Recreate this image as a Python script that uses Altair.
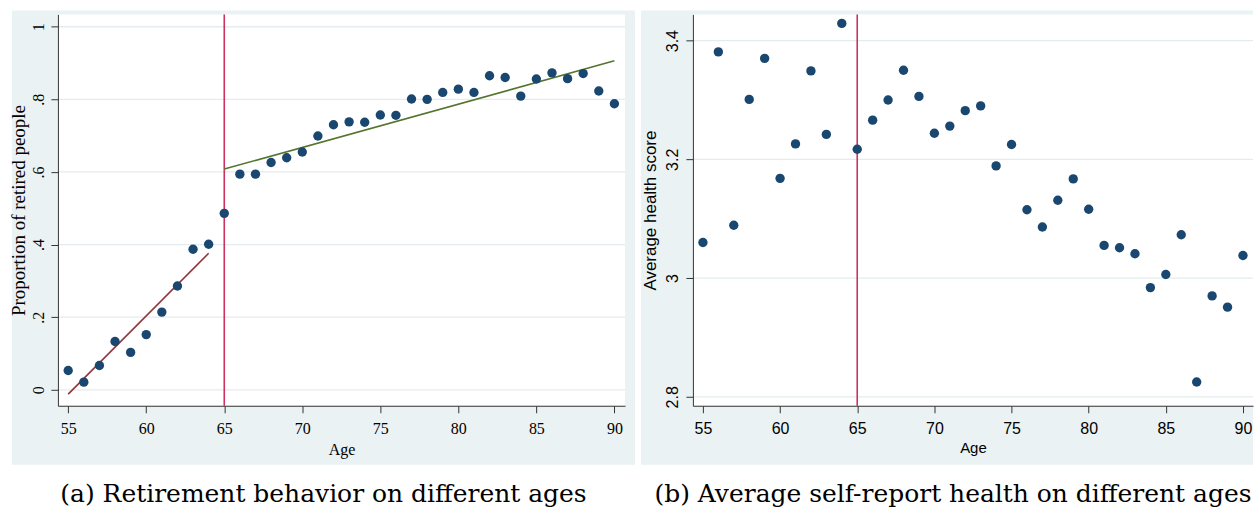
import altair as alt
import pandas as pd

# ---------------- data ----------------
ages = list(range(55, 91))
retired_share = [0.053, 0.021, 0.067, 0.133, 0.103, 0.152, 0.214, 0.286, 0.387, 0.401,
                 0.486, 0.594, 0.594, 0.626, 0.639, 0.655, 0.699, 0.730, 0.738, 0.737,
                 0.757, 0.756, 0.801, 0.800, 0.819, 0.828, 0.819, 0.865, 0.860, 0.809,
                 0.856, 0.873, 0.857, 0.871, 0.823, 0.788]
health_score = [3.060, 3.381, 3.089, 3.301, 3.370, 3.168, 3.226, 3.349, 3.242, 3.429,
                3.217, 3.266, 3.300, 3.350, 3.306, 3.244, 3.256, 3.282, 3.290, 3.189,
                3.225, 3.115, 3.086, 3.131, 3.167, 3.116, 3.055, 3.051, 3.041, 2.984,
                3.006, 3.073, 2.825, 2.970, 2.951, 3.038]
fit_pre_age = [55, 64]
fit_pre_val = [-0.012, 0.376]
fit_post_age = [65, 90]
fit_post_val = [0.608, 0.906]
cutoff_age = [65]
x_ticks = [55, 60, 65, 70, 75, 80, 85, 90]
y_ticks_a = [0, 0.2, 0.4, 0.6, 0.8, 1]
y_ticks_b = [2.8, 3.0, 3.2, 3.4]
caption_a = "(a) Retirement behavior on different ages"
caption_b = "(b) Average self-report health on different ages"

# ---------------- styles ----------------
BG = "#EAF2F3"
GRID = "#E3ECEE"
NAVY = "#1A476F"
MAROON = "#90353B"
GREEN = "#55752F"
CRANBERRY = "#CE3160"
AXIS = "#333333"
H = 392
WA = 568
WB = 561

pts_a = pd.DataFrame({"age": ages, "val": retired_share})
pts_b = pd.DataFrame({"age": ages, "val": health_score})
pre = pd.DataFrame({"age": fit_pre_age, "val": fit_pre_val})
post = pd.DataFrame({"age": fit_post_age, "val": fit_post_val})
cut = pd.DataFrame({"age": cutoff_age})
one = pd.DataFrame({"k": [0]})


def panel(points, W, xdom, ydom, yticks, ytitle, font, lfs, xtfs, ytfs, label_expr, extra,
          gray_x1, gray_x2, caption, cap_dx, xlp, xtp, ylp, ytp):
    xs = alt.Scale(domain=xdom, nice=False, zero=False)
    ys = alt.Scale(domain=ydom, nice=False, zero=False)
    xaxis = alt.Axis(values=x_ticks, title="Age", grid=False, zindex=1,
                     labelFont=font, titleFont=font, labelFontSize=lfs, titleFontSize=xtfs,
                     titleFontWeight="normal", labelColor="black", titleColor="black",
                     domainColor=AXIS, tickColor=AXIS, tickSize=7, labelPadding=xlp,
                     titlePadding=xtp, labelFlush=False)
    yaxis = alt.Axis(values=yticks, title=ytitle, grid=False, zindex=1,
                     labelFont=font, titleFont=font, labelFontSize=lfs, titleFontSize=ytfs,
                     titleFontWeight="normal", labelColor="black", titleColor="black",
                     domainColor=AXIS, tickColor=AXIS, tickSize=7, labelPadding=ylp,
                     labelAngle=270, labelAlign="center", labelBaseline="bottom",
                     titlePadding=ytp, labelExpr=label_expr, labelFlush=False)

    gray = alt.Chart(one).mark_rect(fill=BG, clip=False).encode(
        x=alt.value(gray_x1), x2=alt.value(gray_x2), y=alt.value(-4), y2=alt.value(H + 59))
    white = alt.Chart(one).mark_rect(fill="white").encode(
        x=alt.value(0), x2=alt.value(W), y=alt.value(0), y2=alt.value(H))
    grid = alt.Chart(pd.DataFrame({"t": yticks})).mark_rule(color=GRID, strokeWidth=1.3).encode(
        y=alt.Y("t:Q", scale=ys, axis=yaxis), x=alt.value(0), x2=alt.value(W))
    vline = alt.Chart(cut).mark_rule(color=CRANBERRY, strokeWidth=1.6).encode(
        x=alt.X("age:Q", scale=xs, axis=xaxis), y=alt.value(0), y2=alt.value(H))
    dots = alt.Chart(points).mark_circle(size=88, color=NAVY, opacity=1).encode(
        x=alt.X("age:Q", scale=xs, axis=xaxis), y=alt.Y("val:Q", scale=ys, axis=yaxis))
    layers = [gray, white, grid, vline] + extra(xs, ys, xaxis, yaxis) + [dots]
    return alt.layer(*layers).properties(
        width=W, height=H,
        title=alt.TitleParams(text=caption, orient="bottom", anchor="middle",
                              font="DejaVu Serif", fontSize=25, fontWeight="normal",
                              color="black", offset=17, dx=cap_dx))


def fits_a(xs, ys, xaxis, yaxis):
    l1 = alt.Chart(pre).mark_line(color=MAROON, strokeWidth=1.6).encode(
        x=alt.X("age:Q", scale=xs, axis=xaxis), y=alt.Y("val:Q", scale=ys, axis=yaxis))
    l2 = alt.Chart(post).mark_line(color=GREEN, strokeWidth=1.6).encode(
        x=alt.X("age:Q", scale=xs, axis=xaxis), y=alt.Y("val:Q", scale=ys, axis=yaxis))
    return [l1, l2]


def fits_b(xs, ys, xaxis, yaxis):
    return []


pa = panel(pts_a, WA, [54.34, 90.68], [-0.044, 1.034], y_ticks_a, "Proportion of retired people",
           "Liberation Serif", 16, 16, 19,
           "datum.value == 0 ? '0' : replace(format(datum.value, '.1~f'), '0.', '.')",
           fits_a, -46, WA + 10, caption_a, -18, 8, 5, 4, 2)
pb = panel(pts_b, WB, [54.35, 90.65], [2.7849, 3.4442], y_ticks_b, "Average health score",
           "Liberation Sans", 16, 15, 17, "format(datum.value, '.1~f')",
           fits_b, -52, WB, caption_b, -20, 8, 4, 5, 5)

chart = alt.hconcat(pa, pb, spacing=68, bounds="flush").configure_view(stroke=None).properties(
    background="white",
    padding={"left": 10, "top": 10, "right": 0, "bottom": 2})

chart.save("out.html", embed_options={"renderer": "svg", "actions": False})
